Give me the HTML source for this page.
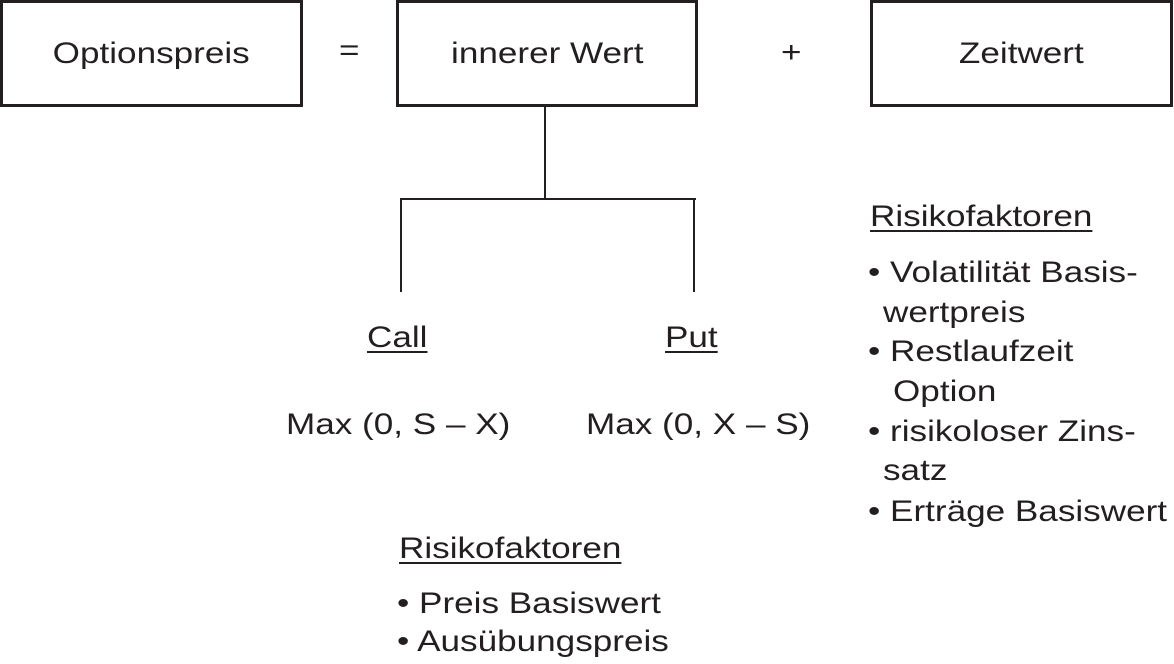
<!DOCTYPE html>
<html><head><meta charset="utf-8"><style>
body{margin:0;width:1174px;height:664px;background:#fff;position:relative;overflow:hidden;font-family:"Liberation Sans",sans-serif;color:#231f20}
.b{position:absolute;border:3px solid #231f20;box-sizing:border-box;display:flex;align-items:center;justify-content:center;font-size:30px}
.b span{display:inline-block;transform:scaleX(1.17)}
.t{position:absolute;font-size:30px;white-space:nowrap;line-height:1;transform:scaleX(1.17);transform-origin:0 0}
.l{position:absolute;background:#231f20}
u{text-decoration-thickness:2px;text-underline-offset:4px}
</style></head><body>
<div class="b" style="left:0;top:0;width:303px;height:107px"><span>Optionspreis</span></div>
<div class="b" style="left:396px;top:0;width:302px;height:107px"><span>innerer Wert</span></div>
<div class="b" style="left:870px;top:0;width:303px;height:107px"><span>Zeitwert</span></div>
<div class="t" style="left:339px;top:36px">=</div>
<div class="t" style="left:781px;top:38px">+</div>
<div class="l" style="left:544px;top:106px;width:2px;height:93px"></div>
<div class="l" style="left:400px;top:198px;width:296px;height:2px"></div>
<div class="l" style="left:400px;top:198px;width:2px;height:94px"></div>
<div class="l" style="left:693px;top:198px;width:2px;height:94px"></div>
<div class="t" style="left:367px;top:323px"><u>Call</u></div>
<div class="t" style="left:665px;top:323px"><u>Put</u></div>
<div class="t" style="left:286px;top:410px">Max (0, S – X)</div>
<div class="t" style="left:586px;top:410px">Max (0, X – S)</div>
<div class="t" style="left:399px;top:534px"><u>Risikofaktoren</u></div>
<div class="t" style="left:397px;top:589px">• Preis Basiswert</div>
<div class="t" style="left:397px;top:627px">• Ausübungspreis</div>
<div class="t" style="left:870px;top:202px"><u>Risikofaktoren</u></div>
<div class="t" style="left:868px;top:258px">• Volatilität Basis-</div>
<div class="t" style="left:883px;top:298px">wertpreis</div>
<div class="t" style="left:868px;top:337px">• Restlaufzeit</div>
<div class="t" style="left:893px;top:377px">Option</div>
<div class="t" style="left:868px;top:417px">• risikoloser Zins-</div>
<div class="t" style="left:883px;top:456px">satz</div>
<div class="t" style="left:868px;top:497px">• Erträge Basiswert</div>
</body></html>
